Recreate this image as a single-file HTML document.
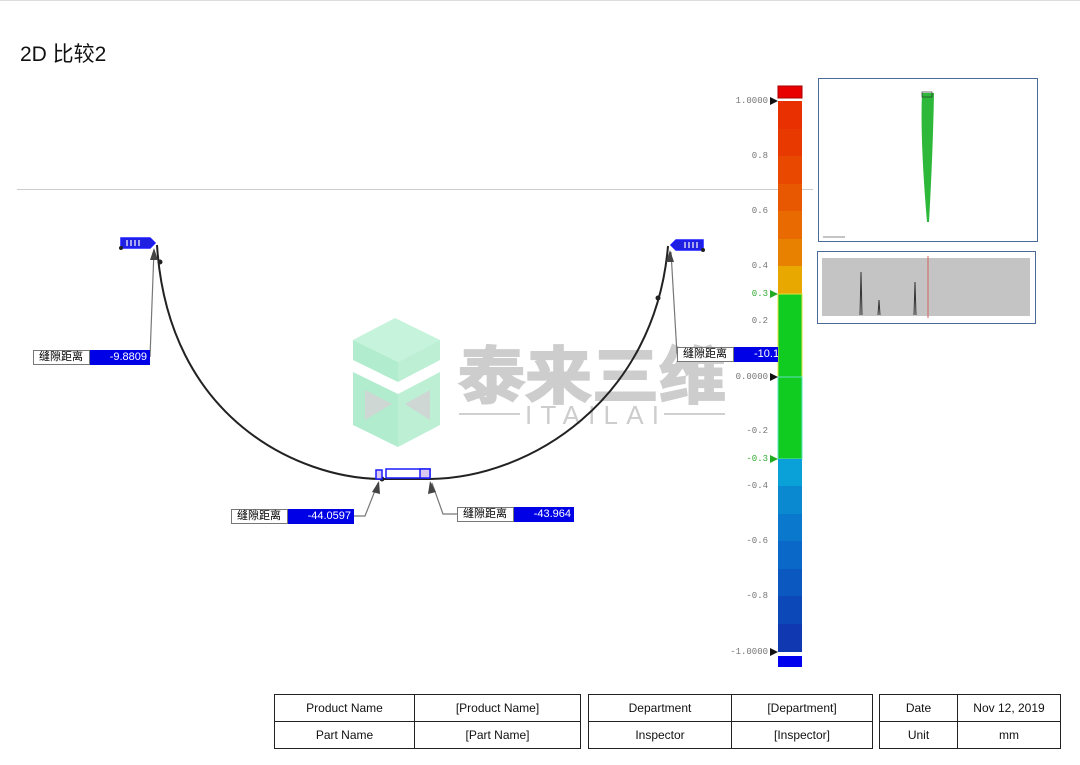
<!DOCTYPE html>
<html><head><meta charset="utf-8"><style>
*{margin:0;padding:0;box-sizing:border-box}
body{width:1080px;height:765px;background:#fff;position:relative;overflow:hidden;font-family:"Liberation Sans","Noto Sans CJK SC",sans-serif}
.a{position:absolute}
.tk{position:absolute;font-family:"Liberation Mono",monospace;font-size:9px;color:#777;text-align:right;width:50px;left:718px}
table{position:absolute;border-collapse:collapse;font-size:12px;color:#111}
td{border:1px solid #222;text-align:center;height:27px}
</style></head><body>
<div class="a" style="left:0;top:0;width:1080px;height:1px;background:#ddd"></div>
<div class="a" style="left:20px;top:38px;font-size:21px;color:#111">2D 比较2</div>
<div class="a" style="left:17px;top:189px;width:796px;height:1px;background:#ccc"></div>

<svg class="a" style="left:0;top:0" width="1080" height="765">
 <g opacity="0.9">
  <polygon points="353,340 395,318 440,340 398,362" fill="#bff2d8"/>
  <polygon points="353,340 398,362 398,382 353,360" fill="#a8ebc8"/>
  <polygon points="398,362 440,340 440,360 398,382" fill="#b5eed0"/>
  <polygon points="353,372 398,394 398,447 353,425" fill="#a8ebc8"/>
  <polygon points="398,394 440,372 440,425 398,447" fill="#b5eed0"/>
  <polygon points="365,390 392,404 365,420" fill="#c9d3cf"/>
  <polygon points="430,390 405,404 430,420" fill="#c9d3cf"/>
  <text x="458" y="398" font-family="Noto Sans CJK SC,sans-serif" font-size="62" font-weight="bold" fill="#c8c8c8" stroke="#c8c8c8" stroke-width="2" textLength="268" lengthAdjust="spacingAndGlyphs">泰来三维</text>
  <line x1="459" y1="414" x2="520" y2="414" stroke="#ccc" stroke-width="2"/>
  <line x1="664" y1="414" x2="725" y2="414" stroke="#ccc" stroke-width="2"/>
  <text x="525" y="424" font-family="Liberation Sans,sans-serif" font-size="26" fill="#c8c8c8" textLength="134">ITAILAI</text>
 </g>
 <path d="M157,245 C168,420 300,478 380,479 L430,479 C530,478 655,400 668,246" fill="none" stroke="#222" stroke-width="2"/>
 <circle cx="160" cy="262" r="2.5" fill="#222"/><circle cx="658" cy="298" r="2.5" fill="#222"/>
 <circle cx="382" cy="479" r="2.5" fill="#222"/>
 <g fill="none" stroke="#777" stroke-width="1.2">
  <polyline points="150,357 154,250"/>
  <polyline points="677,354 671,252"/>
  <polyline points="354,516 365,516 378,483"/>
  <polyline points="457,514 443,514 432,483"/>
 </g>
 <g fill="#444">
  <polygon points="154,248 150,260 158,260"/>
  <polygon points="670,250 666,262 674,262"/>
  <polygon points="379,481 372,492 380,494"/>
  <polygon points="430,481 428,494 436,492"/>
 </g>
 <g stroke="#1a1aff" stroke-width="1.5" fill="#fff">
  <path d="M121,238 H150 L155,243 L150,248 H121 Z" fill="#2020e0"/>
  <path d="M676,240 H703 V250 H676 L671,245 Z" fill="#2020e0"/>
  <rect x="376" y="470" width="6" height="9" fill="#d8c8f0"/>
  <rect x="386" y="469" width="44" height="9"/>
  <rect x="420" y="469" width="10" height="9" fill="#d8c8f0"/>
 </g>
 <g stroke="#fff" stroke-width="1.2">
  <line x1="127" y1="240" x2="127" y2="246"/><line x1="131" y1="240" x2="131" y2="246"/><line x1="135" y1="240" x2="135" y2="246"/><line x1="139" y1="240" x2="139" y2="246"/>
  <line x1="685" y1="242" x2="685" y2="248"/><line x1="689" y1="242" x2="689" y2="248"/><line x1="693" y1="242" x2="693" y2="248"/><line x1="697" y1="242" x2="697" y2="248"/>
 </g>
 <circle cx="121" cy="248" r="2" fill="#222"/><circle cx="703" cy="250" r="2" fill="#222"/>
 <rect x="778" y="86" width="24" height="12" fill="#e80000" stroke="#a00" stroke-width="1"/>
 <rect x="778" y="101" width="24" height="28" fill="#e83000"/>
 <rect x="778" y="129" width="24" height="28" fill="#e83a00"/>
 <rect x="778" y="156" width="24" height="28" fill="#e84800"/>
 <rect x="778" y="184" width="24" height="28" fill="#e85800"/>
 <rect x="778" y="211" width="24" height="28" fill="#e86a00"/>
 <rect x="778" y="239" width="24" height="28" fill="#e88000"/>
 <rect x="778" y="266" width="24" height="28" fill="#e8a800"/>
 <rect x="778" y="294" width="24" height="83" fill="#10cc20" stroke="#e0e040" stroke-width="1"/>
 <rect x="778" y="377" width="24" height="82" fill="#10cc20" stroke="#60e0c0" stroke-width="1"/>
 <rect x="778" y="459" width="24" height="28" fill="#0aa0d8"/>
 <rect x="778" y="486" width="24" height="28" fill="#0a88d0"/>
 <rect x="778" y="514" width="24" height="28" fill="#0a78cc"/>
 <rect x="778" y="541" width="24" height="28" fill="#0a68c8"/>
 <rect x="778" y="569" width="24" height="28" fill="#0a58c0"/>
 <rect x="778" y="596" width="24" height="28" fill="#0c48b8"/>
 <rect x="778" y="624" width="24" height="28" fill="#1038b0"/>
 <rect x="778" y="656" width="24" height="11" fill="#0000ee"/>
 <g fill="#111">
  <polygon points="770,97 778,101 770,105"/><polygon points="770,373 778,377 770,381"/><polygon points="770,648 778,652 770,656"/>
 </g>
 <g fill="#2a2">
  <polygon points="770,290 778,294 770,298"/><polygon points="770,455 778,459 770,463"/>
 </g>
 <rect x="818.5" y="78.5" width="219" height="163" fill="#fff" stroke="#4a6a9a"/>
 <path d="M922,93 L934,93 Q933,150 929,222 L927,222 Q920,140 922,93Z" fill="#2db83a"/>
 <rect x="922" y="92" width="10" height="5" fill="none" stroke="#333" stroke-width="0.7"/>
 <line x1="823" y1="237" x2="845" y2="237" stroke="#888"/>
 <rect x="817.5" y="251.5" width="218" height="72" fill="#fff" stroke="#4a6a9a"/>
 <rect x="822" y="258" width="208" height="58" fill="#c4c4c4"/>
 <line x1="928" y1="256" x2="928" y2="318" stroke="#d06060"/>
 <path d="M860,315 L861,272 L862,315 M878,315 L879,300 L880,315 M914,315 L915,282 L916,315" stroke="#333" fill="none"/>
</svg>

<div class="a" style="left:33px;top:350px;width:57px;height:15px;border:1px solid #777;background:#fff;font-size:11px;line-height:13px;padding-left:5px">缝隙距离</div>
<div class="a" style="left:90px;top:350px;width:60px;height:15px;background:#0000e6;color:#fff;font-size:11px;line-height:15px;text-align:right;padding-right:3px">-9.8809</div>
<div class="a" style="left:677px;top:347px;width:57px;height:15px;border:1px solid #777;background:#fff;font-size:11px;line-height:13px;padding-left:5px">缝隙距离</div>
<div class="a" style="left:734px;top:347px;width:44px;height:15px;background:#0000e6;color:#fff;font-size:11px;line-height:15px;padding-left:20px;overflow:hidden">-10.1</div>
<div class="a" style="left:231px;top:509px;width:57px;height:15px;border:1px solid #777;background:#fff;font-size:11px;line-height:13px;padding-left:5px">缝隙距离</div>
<div class="a" style="left:288px;top:509px;width:66px;height:15px;background:#0000e6;color:#fff;font-size:11px;line-height:15px;text-align:right;padding-right:3px">-44.0597</div>
<div class="a" style="left:457px;top:507px;width:57px;height:15px;border:1px solid #777;background:#fff;font-size:11px;line-height:13px;padding-left:5px">缝隙距离</div>
<div class="a" style="left:514px;top:507px;width:60px;height:15px;background:#0000e6;color:#fff;font-size:11px;line-height:15px;text-align:right;padding-right:3px">-43.964</div>

<div class="tk" style="top:96px">1.0000</div>
<div class="tk" style="top:151px">0.8</div>
<div class="tk" style="top:206px">0.6</div>
<div class="tk" style="top:261px">0.4</div>
<div class="tk" style="top:289px;color:#3a3">0.3</div>
<div class="tk" style="top:316px">0.2</div>
<div class="tk" style="top:372px">0.0000</div>
<div class="tk" style="top:426px">-0.2</div>
<div class="tk" style="top:454px;color:#3a3">-0.3</div>
<div class="tk" style="top:481px">-0.4</div>
<div class="tk" style="top:536px">-0.6</div>
<div class="tk" style="top:591px">-0.8</div>
<div class="tk" style="top:647px">-1.0000</div>

<table style="left:274px;top:694px;width:307px"><tr><td style="width:140px">Product Name</td><td>[Product Name]</td></tr><tr><td>Part Name</td><td>[Part Name]</td></tr></table>
<table style="left:588px;top:694px;width:285px"><tr><td style="width:143px">Department</td><td>[Department]</td></tr><tr><td>Inspector</td><td>[Inspector]</td></tr></table>
<table style="left:879px;top:694px;width:182px"><tr><td style="width:78px">Date</td><td>Nov 12, 2019</td></tr><tr><td>Unit</td><td>mm</td></tr></table>
</body></html>
